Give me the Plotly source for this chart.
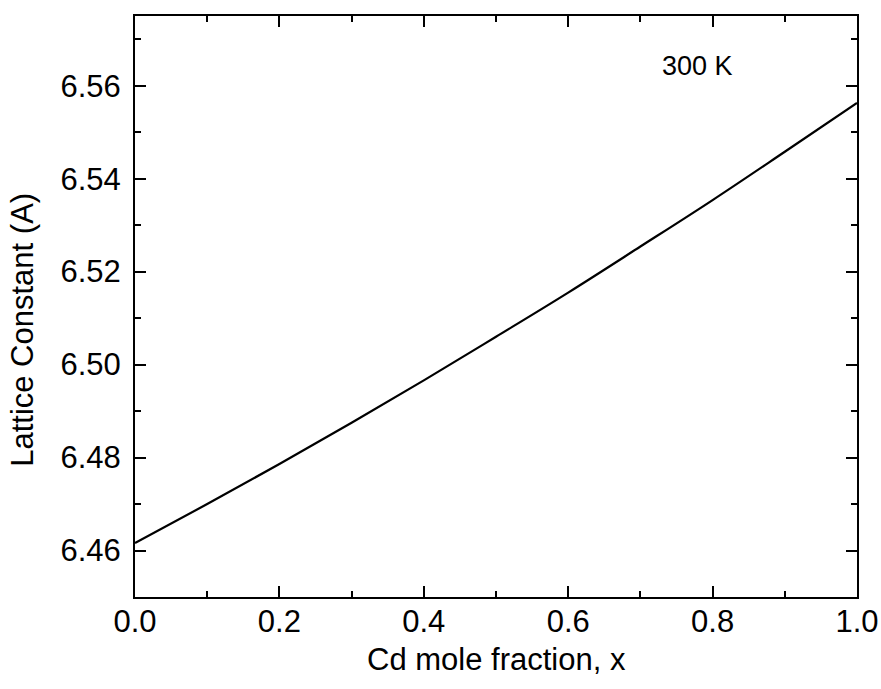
import plotly.graph_objects as go

# Data
cd_fraction = [0.0, 0.1, 0.2, 0.3, 0.4, 0.5, 0.6, 0.7, 0.8, 0.9, 1.0]
lattice_constant = [6.4616, 6.4700, 6.4786, 6.4875, 6.4966, 6.5060,
                    6.5155, 6.5254, 6.5354, 6.5458, 6.5563]
x_tickvals = [0.0, 0.2, 0.4, 0.6, 0.8, 1.0]
x_ticktext = ["0.0", "0.2", "0.4", "0.6", "0.8", "1.0"]
y_tickvals = [6.46, 6.48, 6.50, 6.52, 6.54, 6.56]
y_ticktext = ["6.46", "6.48", "6.50", "6.52", "6.54", "6.56"]

FONT = "Liberation Sans, Arial, sans-serif"

fig = go.Figure()
fig.add_trace(go.Scatter(
    x=cd_fraction, y=lattice_constant, mode="lines",
    line=dict(color="black", width=2.2, shape="spline"),
    showlegend=False,
))

axis_common = dict(
    showline=True, linecolor="black", linewidth=2, mirror="allticks",
    ticks="inside", ticklen=11, tickwidth=2, tickcolor="black",
    showgrid=False, zeroline=False, automargin=False,
    ticklabeloverflow="allow",
    tickfont=dict(family=FONT, size=31, color="black"),
)

fig.update_xaxes(
    range=[0, 1], tickvals=x_tickvals, ticktext=x_ticktext,
    minor=dict(dtick=0.1, ticks="inside", ticklen=6, tickwidth=2, tickcolor="black"),
    ticklabelstandoff=-4,
    **axis_common,
)
fig.update_yaxes(
    range=[6.45, 6.575], tickvals=y_tickvals, ticktext=y_ticktext,
    minor=dict(dtick=0.01, ticks="inside", ticklen=6, tickwidth=2, tickcolor="black"),
    ticklabelstandoff=6,
    **axis_common,
)

fig.add_annotation(
    x=0.779, y=6.5643, xref="x", yref="y", text="300 K", showarrow=False,
    font=dict(family=FONT, size=27, color="black"),
)
fig.add_annotation(
    x=-0.155, y=0.46, xref="paper", yref="paper", text="Lattice Constant (A)",
    textangle=-90, showarrow=False, xanchor="center", yanchor="middle",
    font=dict(family=FONT, size=31, color="black"),
)
fig.add_annotation(
    x=0.5, y=-0.107, xref="paper", yref="paper", text="Cd mole fraction, x",
    showarrow=False, xanchor="center", yanchor="middle",
    font=dict(family=FONT, size=31, color="black"),
)

fig.update_layout(
    width=881, height=689,
    margin=dict(l=135, r=24, t=16, b=92),
    paper_bgcolor="white", plot_bgcolor="white",
)

fig.write_html("out.html")
